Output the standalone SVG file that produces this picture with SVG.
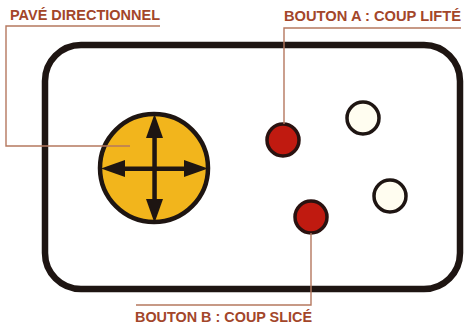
<svg xmlns="http://www.w3.org/2000/svg" width="466" height="324" viewBox="0 0 466 324">
<style>
.lbl{font-family:"Liberation Sans",Arial,sans-serif;font-weight:bold;font-size:14.5px;fill:#a3462a}
.lead{fill:none;stroke:#b5785f;stroke-width:1.4}
.red{fill:#c01a10;stroke:#2a1210;stroke-width:3.5}
.white{fill:#fffdf0;stroke:#1e1512;stroke-width:3.5}
.arrow{fill:#1e1512}
</style>
<rect width="466" height="324" fill="#ffffff"/>
<g id="controller">
<rect x="45" y="45" width="415" height="244" rx="36" fill="#ffffff" stroke="#1e1512" stroke-width="6.5"/>
</g>
<g id="dpad">
<circle cx="154" cy="168" r="54" fill="#f2b51c" stroke="#1e1512" stroke-width="4.5"/>
<rect x="118" y="166.5" width="72" height="4.5" class="arrow"/>
<rect x="152.3" y="132" width="4.5" height="72" class="arrow"/>
<polygon points="101,168.5 125,160 125,177" class="arrow"/>
<polygon points="208,168.5 184,160 184,177" class="arrow"/>
<polygon points="154.5,114 146,138 163,138" class="arrow"/>
<polygon points="154.5,223 146,199 163,199" class="arrow"/>
</g>
<g id="buttonA"><circle cx="283" cy="140" r="16" class="red"/></g>
<g id="buttonB"><circle cx="311" cy="217" r="16" class="red"/></g>
<g id="button3"><circle cx="363" cy="118" r="16" class="white"/></g>
<g id="button4"><circle cx="390" cy="196" r="16" class="white"/></g>
<g id="connectors">
<path class="lead" d="M160,26 H6 V146 H130"/>
<path class="lead" d="M461,28 H284 V124"/>
<path class="lead" d="M136,305 H311 V233"/>
</g>
<g id="labels">
<text class="lbl" x="10" y="20" textLength="150" lengthAdjust="spacingAndGlyphs">PAVÉ DIRECTIONNEL</text>
<text class="lbl" x="284" y="21" textLength="177" lengthAdjust="spacingAndGlyphs">BOUTON A : COUP LIFTÉ</text>
<text class="lbl" x="135" y="322" textLength="177" lengthAdjust="spacingAndGlyphs">BOUTON B : COUP SLICÉ</text>
</g>
</svg>
